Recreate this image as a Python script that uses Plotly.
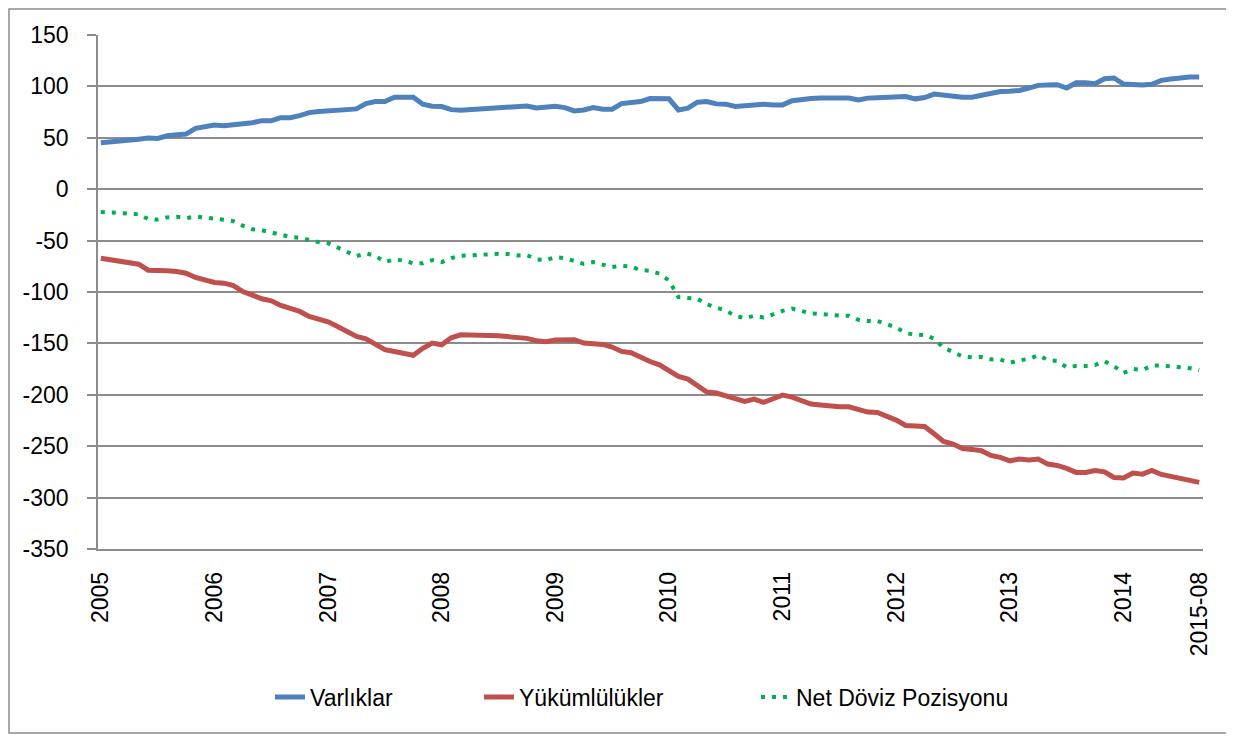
import plotly.graph_objects as go

varliklar = [45.1, 45.7, 46.4, 47.4, 48.7, 49.7, 49.3, 52.0, 53.3, 53.6,
             59.2, 60.8, 62.4, 61.8, 62.7, 64.0, 64.7, 66.7, 66.7, 69.6,
             69.6, 71.6, 74.5, 75.5, 76.5, 76.8, 77.4, 78.1, 83.3, 85.3,
             85.3, 89.5, 89.9, 89.5, 82.7, 80.7, 80.4, 77.4, 76.8, 77.4,
             77.8, 78.8, 79.7, 80.4, 80.4, 81.0, 79.1, 79.4, 80.7, 79.4,
             76.1, 77.1, 79.4, 77.8, 77.8, 83.3, 83.7, 85.3, 88.2, 88.6,
             87.9, 77.1, 78.8, 84.6, 85.3, 83.0, 82.7, 80.4, 81.0, 81.0,
             82.7, 82.0, 82.0, 86.0, 87.3, 88.2, 88.6, 88.6, 88.6, 88.6,
             86.9, 88.6, 88.9, 89.2, 89.9, 90.2, 87.9, 89.2, 92.5, 91.2,
             89.9, 89.5, 89.5, 91.2, 93.5, 95.1, 95.4, 96.1, 98.4, 101.0,
             101.3, 101.6, 98.4, 103.6, 103.6, 102.6, 107.5, 108.2, 102.3, 101.3,
             101.3, 102.0, 105.9, 107.2, 108.5, 109.2, 109.2]

yukumlulukler = [-67.2, -68.4, -69.7, -71.0, -73.0, -78.8, -78.8, -79.4, -80.1, -81.7,
                 -85.9, -88.2, -90.8, -91.4, -93.7, -99.5, -103.7, -106.6, -108.6, -113.1,
                 -116.0, -118.9, -123.8, -127.0, -129.0, -133.5, -138.3, -143.2, -145.5, -150.3,
                 -156.1, -157.8, -159.4, -161.6, -154.8, -149.7, -151.3, -144.5, -141.6, -141.6,
                 -141.3, -142.2, -142.6, -143.5, -144.8, -145.1, -147.4, -148.4, -146.8, -146.4,
                 -146.4, -149.7, -150.3, -151.0, -153.6, -157.8, -159.0, -163.9, -167.6, -170.8,
                 -176.6, -182.1, -184.7, -191.2, -197.3, -198.3, -200.9, -203.5, -206.4, -204.2,
                 -207.4, -203.8, -200.3, -202.2, -205.8, -209.0, -210.0, -211.0, -211.6, -211.6,
                 -213.9, -216.8, -217.1, -220.4, -224.6, -229.8, -229.8, -230.8, -237.9, -245.3,
                 -247.9, -252.2, -253.1, -254.4, -259.0, -260.9, -264.2, -262.5, -263.5, -262.5,
                 -267.4, -268.7, -271.6, -275.5, -275.5, -273.6, -274.9, -280.4, -281.0, -276.2,
                 -277.2, -273.6, -277.5, -279.5, -282.3, -283.3, -285.2]

net_pozisyon = [-22.1, -22.7, -23.3, -23.6, -24.3, -29.1, -29.5, -27.4, -26.8, -28.1,
                -26.7, -27.4, -28.4, -29.6, -31.0, -35.5, -39.0, -39.9, -41.9, -43.5,
                -46.4, -47.3, -49.3, -51.5, -52.5, -56.7, -60.9, -65.1, -62.2, -65.0,
                -70.8, -68.3, -69.5, -72.1, -72.1, -69.0, -70.9, -67.1, -64.8, -64.2,
                -63.5, -63.4, -62.9, -63.1, -64.4, -64.1, -68.3, -69.0, -66.1, -67.0,
                -70.3, -72.6, -70.9, -73.2, -75.8, -74.5, -75.3, -78.6, -79.4, -82.2,
                -88.7, -105.0, -105.9, -106.6, -112.0, -115.3, -118.2, -123.1, -125.4, -123.2,
                -124.7, -121.8, -118.3, -116.2, -118.5, -120.8, -121.4, -122.4, -123.0, -123.0,
                -127.0, -128.2, -128.2, -131.2, -134.7, -139.6, -141.9, -141.6, -145.4, -154.1,
                -158.0, -162.7, -163.6, -163.2, -165.5, -165.8, -168.8, -166.4, -165.1, -161.5,
                -166.1, -167.1, -173.2, -171.9, -171.9, -171.0, -167.4, -172.2, -178.7, -174.9,
                -175.9, -171.6, -171.6, -172.3, -173.8, -174.1, -176.0]

x_tick_labels = ["2005", "2006", "2007", "2008", "2009", "2010",
                 "2011", "2012", "2013", "2014", "2015-08"]
x_tick_positions = [0, 12, 24, 36, 48, 60, 72, 84, 96, 108, 116]
y_tick_values = [150, 100, 50, 0, -50, -100, -150, -200, -250, -300, -350]
y_tick_labels = ["150", "100", "50", "0", "-50", "-100", "-150", "-200", "-250", "-300", "-350"]

x = list(range(len(varliklar)))

# page body has an 8px margin; work in window pixels and convert
OFF = 8
W, H = 1234 - OFF, 736 - OFF
L, R, T, B = 98 - OFF, 1203 - OFF, 35 - OFF, 549 - OFF
pw, ph = R - L, B - T

def px(v):
    return (v - OFF - L) / pw

def py(v):
    return (B - (v - OFF)) / ph

fig = go.Figure()
fig.add_trace(go.Scatter(x=x, y=varliklar, mode="lines", name="Varlıklar",
                         line=dict(color="#4F81BD", width=5), legend="legend"))
fig.add_trace(go.Scatter(x=x, y=yukumlulukler, mode="lines", name="Yükümlülükler",
                         line=dict(color="#C0504D", width=5), legend="legend2"))
fig.add_trace(go.Scatter(x=x, y=net_pozisyon, mode="lines", name="Net Döviz Pozisyonu",
                         line=dict(color="#00B050", width=4, dash="4px,7px"), legend="legend3"))

leg_font = dict(size=23, family="Liberation Sans, Arial, sans-serif", color="black")
def leg(xpix):
    return dict(x=px(xpix), y=py(697), xanchor="left", yanchor="middle",
                font=leg_font, bgcolor="rgba(0,0,0,0)", borderwidth=0)

fig.update_layout(
    width=W, height=H,
    margin=dict(l=L, r=W - R, t=T, b=H - B),
    paper_bgcolor="white", plot_bgcolor="white",
    font=dict(family="Liberation Sans, Arial, sans-serif", size=23, color="black"),
    showlegend=True,
    legend=leg(270),
    legend2=leg(479),
    legend3=leg(756),
    xaxis=dict(range=[-0.3, 116.4], tickmode="array", tickvals=x_tick_positions,
               ticktext=x_tick_labels, tickangle=-90, showgrid=False, zeroline=False,
               showline=True, linecolor="#8c8c8c", linewidth=1.5, ticks="",
               ticklabelstandoff=12, tickfont=dict(size=23)),
    yaxis=dict(range=[-350, 150], tickmode="array", tickvals=y_tick_values,
               ticktext=y_tick_labels, showgrid=True,
               gridcolor="#8c8c8c", gridwidth=1.5, zeroline=False,
               showline=True, linecolor="#8c8c8c", linewidth=1.5,
               ticks="outside", ticklen=9, tickcolor="#8c8c8c", tickwidth=1.5,
               ticklabelstandoff=14, tickfont=dict(size=23)),
    shapes=[dict(type="rect", xref="paper", yref="paper",
                 x0=px(9), x1=px(1230), y0=py(733), y1=py(9),
                 line=dict(color="#8c8c8c", width=1.5), fillcolor="rgba(0,0,0,0)",
                 layer="below")],
)

fig.write_html("out.html")
